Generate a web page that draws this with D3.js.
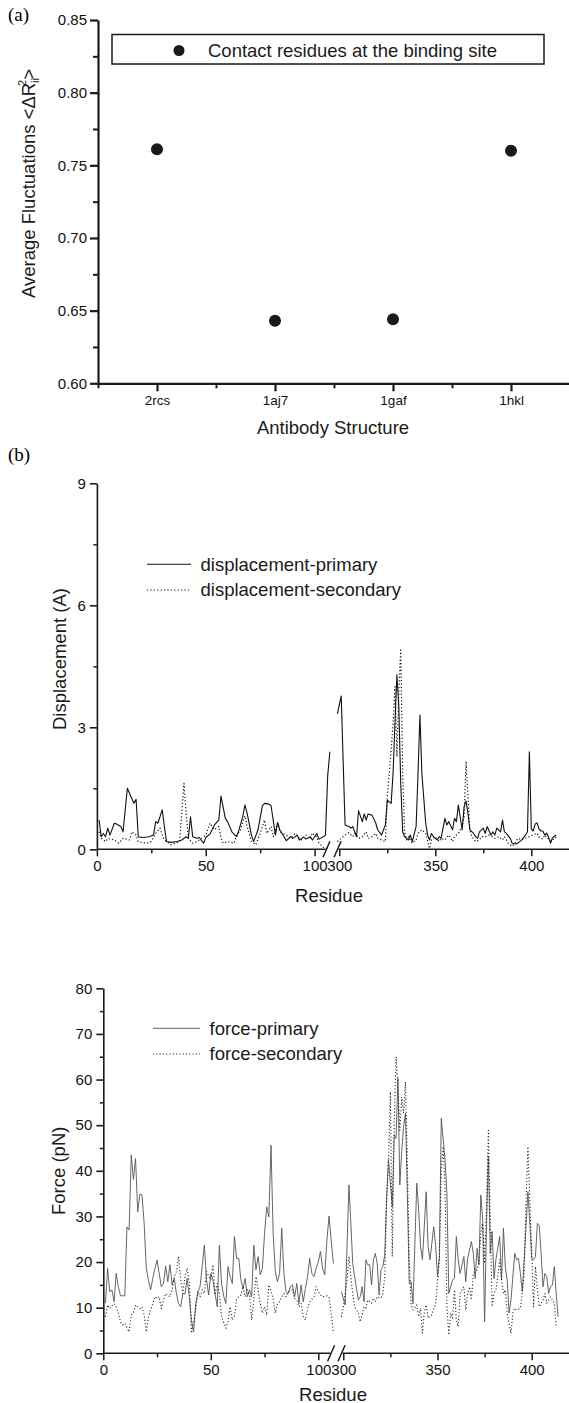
<!DOCTYPE html>
<html>

<head>
  <meta charset="utf-8">
  <title>Binding-site fluctuations, displacement and force</title>
  <script src="https://cdn.jsdelivr.net/npm/d3@7"></script>
  <style>
    body {
      margin: 0;
      background: #fff;
    }

    svg {
      display: block;
      font-family: "Liberation Sans", Arial, Helvetica, sans-serif;
    }

    .tick text {
      fill: #111;
    }

    .panel-label {
      font-family: "Liberation Serif", "Times New Roman", serif;
      font-size: 19px;
    }
  </style>
</head>

<body>
  <svg id="chart" width="569" height="1403"></svg>

  <script>
    // ---- (a) average fluctuations at the binding site
    var structures = ['2rcs', '1aj7', '1gaf', '1hkl'];
    var avgFluct = [0.761, 0.643, 0.644, 0.760];

    // ---- (b) displacement, [residue, value]
    var dispPrimaryLeft = [[1, 0.72], [2, 0.31], [3, 0.39], [4, 0.31], [5, 0.52], [6, 0.35], [8, 0.64], [9, 0.62], [11, 0.56],
      [12, 0.43], [14, 1.50], [16, 1.25], [17, 1.13], [18, 1.23], [19, 0.31], [21, 0.29], [24, 0.31], [26, 0.35], [27, 0.68],
      [28, 0.64], [30, 0.97], [31, 0.56], [32, 0.19], [34, 0.17], [37, 0.19], [39, 0.23], [41, 0.31], [42, 0.27], [43, 0.80],
      [44, 0.31], [46, 0.27], [47, 0.29], [49, 0.15], [50, 0.29], [52, 0.38], [54, 0.60], [56, 0.72], [57, 1.31], [59, 0.76],
      [60, 0.68], [62, 0.43], [64, 0.31], [65, 0.43], [67, 0.80], [68, 1.09], [69, 0.89], [71, 0.35], [72, 0.19], [74, 0.48],
      [76, 1.07], [77, 1.13], [79, 1.11], [80, 1.07], [82, 0.35], [83, 0.66], [84, 0.48], [86, 0.31], [87, 0.21], [89, 0.31],
      [90, 0.27], [92, 0.35], [93, 0.23], [95, 0.30], [96, 0.25], [98, 0.31], [99, 0.23], [101, 0.39], [102, 0.25], [104, 0.31],
      [105, 0.35], [106, 1.80], [107, 2.40]];
    var dispSecondaryLeft = [[1, 0.43], [2, 0.27], [4, 0.19], [5, 0.27], [8, 0.23], [10, 0.15], [12, 0.27], [15, 0.23], [16, 0.43],
      [18, 0.35], [19, 0.19], [21, 0.16], [24, 0.16], [25, 0.19], [27, 0.39], [29, 0.52], [30, 0.35], [31, 0.23], [34, 0.11],
      [36, 0.15], [38, 0.19], [40, 1.62], [41, 0.89], [42, 0.27], [44, 0.15], [46, 0.19], [47, 0.23], [50, 0.35], [52, 0.64],
      [54, 0.48], [56, 0.56], [57, 0.27], [58, 0.15], [60, 0.19], [63, 0.15], [64, 0.31], [66, 0.48], [68, 0.82], [69, 0.56],
      [71, 0.19], [73, 0.11], [75, 0.39], [77, 0.72], [78, 0.39], [80, 0.56], [81, 0.31], [83, 0.64], [84, 0.43], [87, 0.35],
      [89, 0.27], [91, 0.39], [93, 0.27], [94, 0.23], [96, 0.35], [98, 0.25], [99, 0.40], [101, 0.30], [102, 0.15], [104, 0.05],
      [106, 0.02]];
    var dispPrimaryRight = [[299, 3.33], [301, 3.77], [303, 0.60], [305, 0.56], [306, 0.52], [307, 0.56], [308, 0.43], [309, 0.31],
      [310, 0.95], [312, 0.68], [313, 0.87], [314, 0.72], [315, 0.87], [317, 0.84], [319, 0.64], [320, 0.48], [322, 0.35],
      [324, 0.60], [325, 1.21], [327, 1.13], [328, 1.87], [329, 3.10], [330, 4.29], [331, 3.50], [332, 1.62], [333, 0.43],
      [334, 0.31], [336, 0.23], [337, 0.35], [338, 0.19], [340, 0.56], [341, 1.87], [342, 3.30], [343, 1.87], [345, 0.64],
      [346, 0.35], [347, 0.23], [348, 0.39], [349, 0.31], [351, 0.23], [352, 0.31], [353, 0.27], [355, 0.76], [356, 0.60],
      [357, 0.68], [359, 0.48], [360, 0.76], [361, 0.68], [362, 1.09], [364, 0.48], [365, 1.05], [366, 1.19], [367, 0.89],
      [368, 0.48], [370, 0.39], [371, 0.31], [372, 0.27], [373, 0.43], [375, 0.52], [376, 0.39], [377, 0.56], [379, 0.35],
      [380, 0.43], [381, 0.35], [382, 0.52], [384, 0.43], [385, 0.72], [386, 0.43], [387, 0.39], [389, 0.27], [390, 0.15],
      [392, 0.13], [393, 0.15], [395, 0.23], [397, 0.35], [398, 0.43], [399, 2.40], [400, 0.50], [401, 0.45], [402, 0.62],
      [403, 0.65], [404, 0.50], [405, 0.45], [406, 0.45], [407, 0.35], [408, 0.40], [409, 0.30], [410, 0.15], [411, 0.28],
      [412, 0.32], [413, 0.35]];
    var dispSecondaryRight = [[299, 0.19], [301, 0.27], [303, 0.35], [305, 0.41], [307, 0.31], [308, 0.39], [310, 0.27], [312, 0.31],
      [314, 0.43], [315, 0.27], [317, 0.31], [319, 0.39], [320, 0.27], [322, 0.23], [324, 0.19], [325, 1.30], [327, 2.44],
      [328, 3.10], [329, 4.00], [330, 2.28], [331, 3.84], [332, 4.94], [333, 1.87], [334, 0.43], [335, 0.23], [336, 0.31],
      [338, 0.15], [340, 0.23], [341, 0.39], [343, 0.48], [345, 0.39], [347, 0.02], [348, 0.23], [350, 0.31], [352, 0.19],
      [353, 0.27], [355, 0.23], [357, 0.35], [359, 0.19], [360, 0.31], [362, 0.39], [364, 0.56], [365, 0.80], [366, 2.16],
      [367, 1.30], [368, 0.48], [369, 0.31], [371, 0.19], [373, 0.23], [374, 0.31], [376, 0.31], [378, 0.35], [380, 0.31],
      [381, 0.27], [383, 0.31], [385, 0.23], [386, 0.31], [388, 0.15], [390, 0.07], [392, 0.19], [393, 0.27], [395, 0.23],
      [397, 0.27], [399, 0.31], [401, 0.35], [403, 0.40], [404, 0.30], [406, 0.25], [407, 0.35], [409, 0.25], [410, 0.20],
      [411, 0.22], [412, 0.28], [413, 0.30]];

    // ---- (c) force, residues 1..107 for the first list
    var forcePrimaryLeftVals = [11.0, 18.6, 13.5, 13.9, 11.3, 17.5, 14.6, 12.6, 12.6, 12.6,
      27.7, 27.0, 43.5, 38.1, 42.7, 31.0, 34.9, 34.7, 28.5, 18.6,
      16.1, 13.9, 16.4, 18.5, 20.4, 17.5, 14.6, 15.3, 19.1, 15.7,
      19.4, 15.0, 16.4, 13.1, 10.9, 10.2, 13.1, 13.0, 16.4, 12.4,
      7.3, 4.7, 10.9, 13.5, 14.6, 19.0, 23.7, 16.1, 12.8, 17.5,
      16.1, 13.0, 10.2, 23.7, 15.3, 12.5, 10.9, 19.0, 16.8, 15.3,
      25.6, 20.8, 20.8, 16.1, 14.2, 16.4, 12.4, 13.9, 12.4, 23.7,
      18.3, 21.2, 17.2, 18.6, 26.3, 32.1, 29.9, 45.6, 26.3, 17.9,
      15.7, 17.5, 27.4, 17.5, 13.5, 13.1, 14.6, 15.0, 12.4, 15.3,
      10.9, 15.0, 11.3, 14.2, 16.8, 20.8, 17.5, 16.8, 18.6, 20.1,
      22.3, 18.6, 17.2, 24.8, 30.1, 24.8, 19.7];
    var forceSecondaryLeft = [[1, 8.0], [2, 10.6], [3, 9.8], [5, 10.9], [6, 10.2], [7, 8.8], [8, 6.9], [9, 6.2], [10, 6.6],
      [12, 4.7], [13, 8.4], [14, 8.8], [15, 10.6], [17, 9.8], [18, 10.2], [19, 8.4], [20, 4.7], [21, 8.0], [22, 9.5],
      [24, 12.4], [25, 12.0], [26, 12.4], [27, 9.8], [28, 11.7], [29, 13.1], [31, 12.4], [32, 13.9], [33, 16.8], [34, 17.9],
      [35, 21.2], [36, 16.1], [37, 13.1], [38, 16.8], [39, 18.6], [40, 15.3], [41, 4.4], [43, 9.5], [44, 13.5], [45, 12.4],
      [46, 13.9], [47, 13.1], [48, 17.9], [50, 16.1], [51, 19.4], [52, 12.8], [53, 15.3], [54, 13.1], [55, 8.0], [57, 5.5],
      [58, 6.9], [59, 10.2], [60, 7.3], [61, 8.0], [62, 12.0], [64, 12.8], [65, 14.6], [66, 12.4], [67, 13.9], [68, 12.8],
      [69, 7.3], [70, 11.7], [71, 16.8], [72, 13.9], [73, 10.9], [74, 8.8], [75, 10.2], [76, 8.4], [77, 15.0], [79, 12.0],
      [80, 8.8], [81, 10.9], [82, 11.3], [83, 12.4], [84, 13.1], [85, 12.4], [86, 13.5], [88, 13.9], [89, 12.0], [90, 11.7],
      [91, 10.2], [92, 10.9], [93, 8.0], [94, 7.3], [95, 9.8], [96, 11.3], [98, 12.4], [99, 14.6], [100, 13.5], [101, 12.8],
      [102, 12.4], [104, 12.6], [105, 12.4], [106, 8.8], [107, 4.7]];
    var forcePrimaryRight = [[299, 13.5], [301, 10.6], [303, 36.9], [304, 28.5], [305, 19.7], [306, 16.8], [308, 11.7], [309, 12.4],
      [310, 14.6], [311, 11.3], [312, 20.5], [313, 19.4], [314, 19.4], [315, 15.0], [316, 20.5], [317, 21.9], [318, 19.7],
      [319, 12.8], [320, 18.3], [321, 19.0], [322, 21.6], [323, 34.3], [324, 42.4], [326, 32.1], [327, 47.9], [328, 47.1],
      [329, 60.3], [330, 36.9], [331, 44.2], [332, 49.7], [333, 52.6], [334, 35.0], [335, 15.3], [336, 15.7], [337, 10.9],
      [339, 37.3], [340, 31.4], [341, 23.4], [342, 20.5], [344, 35.4], [345, 23.4], [346, 20.5], [348, 27.7], [349, 23.7],
      [350, 16.8], [351, 21.2], [352, 51.5], [354, 42.4], [355, 35.0], [356, 13.1], [357, 14.6], [358, 16.1], [359, 16.4],
      [360, 25.6], [361, 20.5], [362, 17.5], [364, 21.2], [365, 15.7], [366, 20.8], [367, 22.6], [368, 24.5], [369, 21.9],
      [370, 16.4], [371, 23.0], [372, 19.4], [373, 34.7], [374, 29.2], [375, 6.9], [376, 27.7], [377, 43.1], [378, 21.9],
      [379, 26.7], [380, 16.4], [381, 20.5], [383, 25.6], [384, 16.1], [385, 27.4], [386, 19.0], [387, 16.1], [388, 8.8],
      [389, 11.7], [391, 21.9], [392, 20.5], [393, 20.8], [394, 17.5], [395, 13.5], [396, 20.5], [398, 35.4], [399, 28.5],
      [400, 20.8], [401, 20.5], [402, 21.2], [403, 28.5], [404, 28.1], [405, 21.9], [406, 14.6], [407, 17.5], [408, 16.8],
      [409, 13.1], [410, 14.6], [411, 15.0], [412, 19.0], [413, 13.1], [414, 8.0]];
    var forceSecondaryRight = [[299, 8.0], [300, 10.2], [302, 16.1], [303, 21.2], [304, 16.8], [305, 13.1], [306, 10.2], [308, 8.8],
      [309, 6.9], [311, 10.2], [312, 9.9], [313, 11.7], [315, 11.0], [316, 12.1], [317, 11.3], [318, 12.4], [320, 12.1],
      [321, 13.1], [322, 16.8], [323, 33.6], [324, 42.4], [325, 57.3], [326, 21.2], [327, 49.7], [328, 65.0], [329, 58.4],
      [330, 48.9], [331, 56.2], [332, 52.6], [333, 59.5], [334, 41.6], [335, 20.5], [336, 10.6], [337, 9.5], [339, 10.6],
      [340, 8.0], [341, 9.9], [342, 4.4], [343, 9.1], [344, 10.6], [345, 7.7], [347, 8.4], [348, 9.9], [349, 10.6], [350, 15.7],
      [351, 20.5], [352, 40.2], [353, 45.3], [354, 36.5], [355, 10.2], [356, 4.0], [357, 8.8], [358, 7.7], [359, 13.9],
      [360, 7.3], [361, 5.8], [362, 13.1], [364, 14.6], [365, 9.5], [366, 13.1], [367, 14.6], [368, 11.7], [369, 17.5],
      [371, 18.3], [372, 19.7], [373, 26.3], [374, 28.5], [375, 19.7], [376, 32.1], [377, 48.9], [378, 29.9], [379, 10.2],
      [380, 13.1], [381, 13.9], [382, 16.8], [383, 20.5], [384, 16.1], [385, 13.1], [386, 13.9], [387, 8.8], [389, 4.4],
      [390, 8.8], [391, 9.9], [392, 9.5], [394, 9.9], [395, 13.1], [396, 17.5], [397, 33.6], [398, 45.3], [399, 33.6],
      [400, 22.6], [401, 10.2], [402, 19.0], [403, 13.9], [404, 10.2], [406, 11.7], [407, 13.1], [408, 11.0], [409, 11.7],
      [410, 12.4], [411, 11.7], [412, 11.0], [413, 5.8]];

    var forcePrimaryLeft = forcePrimaryLeftVals.map((v, i) => [i + 1, v]);

    var svg = d3.select('#chart');
    var ink = '#1a1a1a';

    // small helper: styles an axis group
    function styleAxis(g, width, fontSize) {
      g.selectAll('path, line').attr('stroke', ink).attr('stroke-width', width);
      g.selectAll('text').style('font-size', fontSize + 'px');
      return g;
    }

    // =========================== (a)
    var xa = d3.scaleLinear().domain([0.5, 4.5]).range([98, 570]);
    var ya = d3.scaleLinear().domain([0.60, 0.85]).range([383.3, 20]);

    svg.append('text').attr('class', 'panel-label').attr('x', 8).attr('y', 21).text('(a)');

    // minor ticks first, then labelled ones
    styleAxis(svg.append('g')
      .attr('transform', 'translate(98,0)')
      .call(d3.axisLeft(ya).tickValues([0.625, 0.675, 0.725, 0.775, 0.825]).tickSize(5).tickFormat('')), 2, 15)
      .select('.domain').remove();
    styleAxis(svg.append('g')
      .attr('transform', 'translate(98,0)')
      .call(d3.axisLeft(ya).tickValues([0.60, 0.65, 0.70, 0.75, 0.80, 0.85]).tickSize(8).tickSizeOuter(0)
        .tickPadding(3).tickFormat(d3.format('.2f'))), 2.2, 15);

    styleAxis(svg.append('g')
      .attr('transform', 'translate(0,383.3)')
      .call(d3.axisBottom(xa).tickValues([0.5, 1.5, 2.5, 3.5, 4.5]).tickSize(5).tickFormat('')), 2, 13.5)
      .select('.domain').remove();
    styleAxis(svg.append('g')
      .attr('transform', 'translate(0,383.3)')
      .call(d3.axisBottom(xa).tickValues([1, 2, 3, 4]).tickSize(8).tickSizeOuter(0).tickPadding(4)
        .tickFormat(d => structures[d - 1])), 2.2, 13.5);

    svg.append('g').selectAll('circle')
      .data(avgFluct)
      .enter()
      .append('circle')
      .attr('cx', (d, i) => xa(i + 1))
      .attr('cy', d => ya(d))
      .attr('r', 6)
      .attr('fill', ink);

    // legend box
    var legA = svg.append('g');
    legA.append('rect').attr('x', 112).attr('y', 34.5).attr('width', 432).attr('height', 29.5)
      .attr('fill', 'none').attr('stroke', ink).attr('stroke-width', 1.5);
    legA.append('circle').attr('cx', 179).attr('cy', 50.5).attr('r', 5.5).attr('fill', ink);
    legA.append('text').attr('x', 208).attr('y', 57).style('font-size', '18.5px').attr('fill', ink)
      .text('Contact residues at the binding site');

    // axis titles
    var ta = svg.append('text')
      .attr('transform', 'translate(35,298) rotate(-90)')
      .style('font-size', '18.5px').attr('fill', ink);
    ta.append('tspan').text('Average Fluctuations <\u0394R');
    ta.append('tspan').attr('dy', 4).style('font-size', '11px').text('ii');
    ta.append('tspan').attr('dx', -8).attr('dy', -13).style('font-size', '11px').text('2');
    ta.append('tspan').attr('dy', 9).text('>');

    svg.append('text').attr('x', 333).attr('y', 434).attr('text-anchor', 'middle')
      .style('font-size', '18.5px').attr('fill', ink).text('Antibody Structure');

    // =========================== broken-axis line panels
    function brokenPanel(opt) {
      var xl = d3.scaleLinear().domain([0, 100]).range(opt.leftRange);
      var xr = d3.scaleLinear().domain([300, 400]).range(opt.rightRange);
      var y = d3.scaleLinear().domain([0, opt.yMax]).range([opt.y0, opt.yTop]);
      var g = svg.append('g');

      // y axis
      styleAxis(g.append('g').attr('transform', 'translate(' + opt.leftRange[0] + ',0)')
        .call(d3.axisLeft(y).tickValues(opt.yMinor).tickSize(3.5).tickFormat('')), 1.5, 15)
        .select('.domain').remove();
      styleAxis(g.append('g').attr('transform', 'translate(' + opt.leftRange[0] + ',0)')
        .call(d3.axisLeft(y).tickValues(opt.yMajor).tickSize(7).tickSizeOuter(0).tickPadding(4)), 1.6, 15);

      // x axis, left and right pieces
      var xg = g.append('g').attr('transform', 'translate(0,' + opt.y0 + ')');
      styleAxis(xg.append('g').call(d3.axisBottom(xl).tickValues([25, 75]).tickSize(4).tickFormat('')), 1.5, 15)
        .select('.domain').remove();
      styleAxis(xg.append('g').call(d3.axisBottom(xl).tickValues([0, 50, 100]).tickSize(7).tickPadding(4)), 1.5, 15)
        .select('.domain').remove();
      styleAxis(xg.append('g').call(d3.axisBottom(xr).tickValues([325, 375]).tickSize(4).tickFormat('')), 1.5, 15)
        .select('.domain').remove();
      styleAxis(xg.append('g').call(d3.axisBottom(xr).tickValues([300, 350, 400]).tickSize(7).tickPadding(4)), 1.5, 15)
        .select('.domain').remove();

      var leftEnd = xl(opt.breakAt[0]);
      var rightStart = xr(opt.breakAt[1]);
      xg.append('line').attr('x1', opt.leftRange[0]).attr('x2', leftEnd)
        .attr('stroke', ink).attr('stroke-width', 1.6);
      xg.append('line').attr('x1', rightStart).attr('x2', 569)
        .attr('stroke', ink).attr('stroke-width', 1.6);
      [leftEnd + 1, rightStart - 1].forEach(function (cx) {
        xg.append('line').attr('x1', cx - 3.5).attr('y1', 8).attr('x2', cx + 3.5).attr('y2', -8)
          .attr('stroke', ink).attr('stroke-width', 1.5);
      });

      // series
      var lineL = d3.line().x(d => xl(d[0])).y(d => y(d[1]));
      var lineR = d3.line().x(d => xr(d[0])).y(d => y(d[1]));
      opt.series.forEach(function (s) {
        [[s.left, lineL], [s.right, lineR]].forEach(function (p) {
          g.append('path').datum(p[0]).attr('d', p[1])
            .attr('fill', 'none').attr('stroke', s.color).attr('stroke-width', s.width)
            .attr('stroke-dasharray', s.dash).attr('stroke-linejoin', 'round');
        });
      });

      // legend
      opt.series.forEach(function (s, i) {
        var ly = opt.legend.y + i * 25.7;
        g.append('line').attr('x1', opt.legend.x).attr('x2', opt.legend.x + opt.legend.len)
          .attr('y1', ly).attr('y2', ly)
          .attr('stroke', s.color).attr('stroke-width', s.width).attr('stroke-dasharray', s.dash);
        g.append('text').attr('x', opt.legend.x + opt.legend.len + 9.5).attr('y', ly + 6.2)
          .style('font-size', '18.5px').attr('fill', ink).text(s.name);
      });

      // titles
      g.append('text').attr('x', opt.xTitle[0]).attr('y', opt.xTitle[1]).attr('text-anchor', 'middle')
        .style('font-size', '18.5px').attr('fill', ink).text('Residue');
      g.append('text')
        .attr('transform', 'translate(' + opt.yTitle[0] + ',' + opt.yTitle[1] + ') rotate(-90)')
        .style('font-size', '18.5px').attr('fill', ink).text(opt.yLabel);
    }

    svg.append('text').attr('class', 'panel-label').attr('x', 8).attr('y', 461).text('(b)');

    brokenPanel({
      leftRange: [96.9, 314.6], rightRange: [339.3, 531.3],
      y0: 849.3, yTop: 483.3, yMax: 9,
      yMajor: [0, 3, 6, 9], yMinor: [1.5, 4.5, 7.5],
      breakAt: [105, 299.6],
      series: [
        { name: 'displacement-primary', left: dispPrimaryLeft, right: dispPrimaryRight, color: '#111', width: 1.1, dash: null },
        { name: 'displacement-secondary', left: dispSecondaryLeft, right: dispSecondaryRight, color: '#111', width: 1.2, dash: '1.2,2.2' }
      ],
      legend: { x: 147, y: 564.3, len: 44 },
      xTitle: [329, 901.5], yTitle: [65.5, 730], yLabel: 'Displacement (A)'
    });

    brokenPanel({
      leftRange: [103.3, 318.3], rightRange: [343.3, 531.7],
      y0: 1353.3, yTop: 988.3, yMax: 80,
      yMajor: [0, 10, 20, 30, 40, 50, 60, 70, 80], yMinor: [5, 15, 25, 35, 45, 55, 65, 75],
      breakAt: [105.5, 299.6],
      series: [
        { name: 'force-primary', left: forcePrimaryLeft, right: forcePrimaryRight, color: '#555', width: 0.9, dash: null },
        { name: 'force-secondary', left: forceSecondaryLeft, right: forceSecondaryRight, color: '#222', width: 1.1, dash: '1.1,2.2' }
      ],
      legend: { x: 153, y: 1028.3, len: 47 },
      xTitle: [333, 1400.5], yTitle: [65, 1215], yLabel: 'Force (pN)'
    });
  </script>
</body>

</html>
